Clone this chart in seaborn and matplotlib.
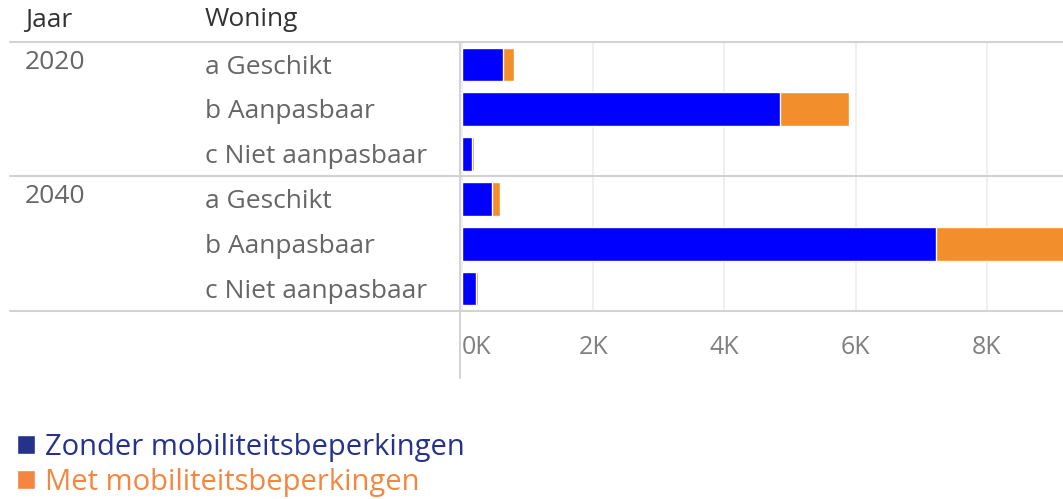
import matplotlib
matplotlib.use("Agg")
import matplotlib.pyplot as plt
import matplotlib.transforms as mtransforms
from matplotlib.patches import Patch
import seaborn as sns
import pandas as pd

# ---- data ----
jaren = ["2020", "2040"]
woningen = ["a Geschikt", "b Aanpasbaar", "c Niet aanpasbaar"]
zonder_2020 = [620, 4840, 150]
met_2020 = [170, 1060, 30]
zonder_2040 = [450, 7230, 210]
met_2040 = [135, 2100, 30]
tick_values = [0, 2000, 4000, 6000, 8000]
tick_labels = ["0K", "2K", "4K", "6K", "8K"]
series_names = ["Zonder mobiliteitsbeperkingen", "Met mobiliteitsbeperkingen"]

BLUE = "#0000ff"
ORANGE = "#f28e2b"
LEG_BLUE = "#25328c"
LEG_ORANGE = "#f4863f"

rows = []
for jaar, zon, met in [(jaren[0], zonder_2020, met_2020), (jaren[1], zonder_2040, met_2040)]:
    for w, z, m in zip(woningen, zon, met):
        rows.append({"rij": f"{jaar} {w}", "jaar": jaar, "woning": w,
                     "zonder": z, "met": m, "totaal": z + m})
df = pd.DataFrame(rows)

sns.set_theme(style="white")
plt.rcParams["font.family"] = ["Open Sans", "DejaVu Sans"]

W, H = 1063, 499
fig = plt.figure(figsize=(W / 100, H / 100), dpi=100)
ax_left, ax_right = 460 / W, 1.0
ax_top, ax_bot = 1 - 42 / H, 1 - 311 / H
ax = fig.add_axes([ax_left, ax_bot, ax_right - ax_left, ax_top - ax_bot])

sns.barplot(data=df, x="totaal", y="rij", color=ORANGE, width=0.75,
            orient="h", ax=ax, saturation=1)
sns.barplot(data=df, x="zonder", y="rij", color=BLUE, width=0.75,
            orient="h", ax=ax, saturation=1)

px_per_k = 65.6
ax.set_xlim(-2 / px_per_k * 1000, (W - 462) / px_per_k * 1000)
ax.set_ylim(len(df) - 0.5, -0.5)
ax.set_xlabel("")
ax.set_ylabel("")
ax.set_yticks([])
for s in ax.spines.values():
    s.set_visible(False)
ax.set_xticks(tick_values)
ax.set_xticklabels(tick_labels, fontsize=18, color="#808080")
ax.tick_params(axis="x", length=0, pad=17)
ax.get_xticklabels()[0].set_horizontalalignment("left")
ax.grid(axis="x", color="#ececec", linewidth=1.2)
ax.set_axisbelow(True)

# vertical axis line
ax.plot([0, 0], [1, -(378 - 311) / (311 - 42)], transform=ax.transAxes,
        color="#cccccc", linewidth=1.2, clip_on=False)

# row labels & separators
LBL = 19
blend = mtransforms.blended_transform_factory(fig.transFigure, ax.transData)
for i, r in df.iterrows():
    ax.text(205 / W, i + 0.06, r["woning"], transform=blend, ha="left", va="center",
            fontsize=LBL, color="#666666")
for j, jaar in enumerate(jaren):
    ax.text(25 / W, j * 3 - 0.05, jaar, transform=blend, ha="left", va="center",
            fontsize=LBL, color="#666666")
for yv in [-0.5, 2.5, 5.5]:
    ax.plot([10 / W, 1.0], [yv, yv], transform=blend, color="#d2d2d2",
            linewidth=1.5, clip_on=False)

fig.text(25 / W, 1 - 20 / H, "Jaar", ha="left", va="center", fontsize=LBL, color="#333333")
fig.text(205 / W, 1 - 20 / H, "Woning", ha="left", va="center", fontsize=LBL, color="#333333")

# legend
handles = [Patch(facecolor=LEG_BLUE), Patch(facecolor=LEG_ORANGE)]
fig.legend(handles, series_names, loc="upper left", bbox_to_anchor=(17 / W, 1 - 433 / H),
           frameon=False, fontsize=21, labelcolor=[LEG_BLUE, LEG_ORANGE],
           handlelength=0.62, handleheight=0.62, handletextpad=0.35,
           labelspacing=0.2, borderaxespad=0, borderpad=0)

fig.savefig("out.png", dpi=100)
